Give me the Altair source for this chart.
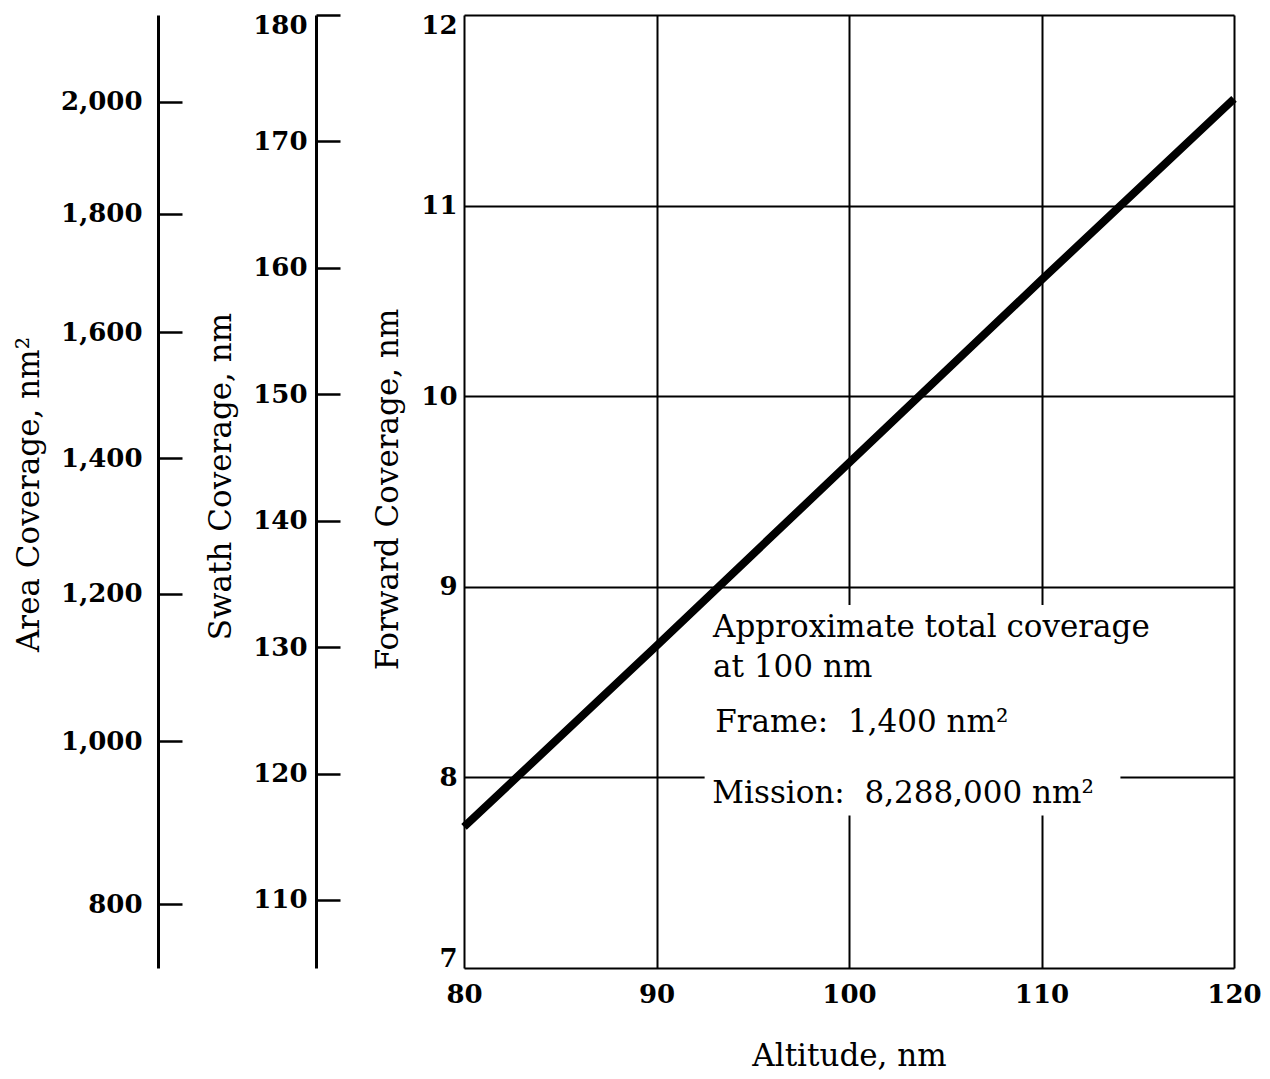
import altair as alt
import pandas as pd

# ---------------- data ----------------
altitude = [80, 90, 100, 110, 120]
forward = [7.74, 8.69, 9.65, 10.61, 11.56]

x_ticks = [80, 90, 100, 110, 120]
forward_ticks = [7, 8, 9, 10, 11, 12]
swath_ticks = [110, 120, 130, 140, 150, 160, 170, 180]
area_ticks = [800, 1000, 1200, 1400, 1600, 1800, 2000]

x_domain = [80, 120]
forward_domain = [7, 12]
swath_domain = [104.62, 180]
area_domain = [728, 2162]

note_lines = ["Approximate total coverage", "at 100 nm",
              "Frame: \u00a01,400 nm²", "Mission: \u00a08,288,000 nm²"]
note_x = [92.94, 92.94, 93.05, 92.90]
note_y = [8.737, 8.527, 8.238, 7.866]

box_x = [92.5]
box_x2 = [114.1]
box_y = [8.905]
box_y2 = [7.80]

FONT = "DejaVu Serif"
LABEL_SIZE = 26
TITLE_SIZE = 31

# ---------------- tables ----------------
df_line = pd.DataFrame({"x": altitude, "y": forward})
df_note = pd.DataFrame({"x": note_x, "y": note_y, "t": note_lines})
df_box = pd.DataFrame({"x": box_x, "x2": box_x2, "y": box_y, "y2": box_y2})
df_swath = pd.DataFrame({"v": swath_ticks})
df_area = pd.DataFrame({"v": area_ticks})

label_style = dict(labelFont=FONT, labelFontSize=LABEL_SIZE, labelFontWeight="bold",
                   labelColor="black", labelOverlap=False, labelBound=False)
title_style = dict(titleFont=FONT, titleFontSize=TITLE_SIZE, titleFontWeight="normal",
                   titleColor="black", titleAlign="center", titleBaseline="alphabetic")

x_axis = alt.Axis(values=x_ticks, title="Altitude, nm", grid=True, gridColor="black",
                  gridWidth=2, gridOpacity=1, domain=False, ticks=False, tickSize=0,
                  labelPadding=13, labelFlush=False, titleX=385, titleY=97, titleAngle=0,
                  **label_style, **title_style)

y_axis = alt.Axis(values=forward_ticks, orient="left", title="Forward Coverage, nm",
                  grid=True, gridColor="black", gridWidth=2, gridOpacity=1,
                  domain=False, ticks=False, tickSize=0, labelPadding=7,
                  labelFlush=True, labelFlushOffset=3,
                  titleX=-67, titleY=474, titleAngle=270,
                  **label_style, **title_style)

swath_axis = alt.Axis(values=swath_ticks, orient="right", offset=-918,
                      title="Swath Coverage, nm", grid=False,
                      domain=True, domainColor="black", domainWidth=3,
                      ticks=True, tickSize=24, tickWidth=2.5, tickColor="black",
                      labelAlign="right", labelPadding=-33,
                      labelFlush=True, labelFlushOffset=3,
                      titleX=-86, titleY=461, titleAngle=270,
                      **label_style, **title_style)

area_axis = alt.Axis(values=area_ticks, orient="right", offset=-1076, format=",.0f",
                     title="Area Coverage, nm²", grid=False,
                     domain=True, domainColor="black", domainWidth=3,
                     ticks=True, tickSize=24, tickWidth=2.5, tickColor="black",
                     labelAlign="right", labelBaseline="middle", labelPadding=-40,
                     labelFlush=False,
                     titleX=-120, titleY=479, titleAngle=270,
                     **label_style, **title_style)

x_enc = alt.X("x:Q", scale=alt.Scale(domain=x_domain, nice=False, zero=False), axis=x_axis)
y_enc = alt.Y("y:Q", scale=alt.Scale(domain=forward_domain, nice=False, zero=False), axis=y_axis)

box = alt.Chart(df_box).mark_rect(color="white").encode(
    x=x_enc, x2="x2:Q", y=y_enc, y2="y2:Q")

line = alt.Chart(df_line).mark_line(color="black", strokeWidth=8, strokeCap="butt").encode(
    x=x_enc, y=y_enc)

notes = alt.Chart(df_note).mark_text(align="left", baseline="alphabetic", font=FONT,
                                     fontSize=TITLE_SIZE, color="black").encode(
    x=x_enc, y=y_enc, text="t:N")

main = alt.layer(box, line, notes)

swath = alt.Chart(df_swath).mark_point(opacity=0).encode(
    y=alt.Y("v:Q", scale=alt.Scale(domain=swath_domain, nice=False, zero=False), axis=swath_axis))

area = alt.Chart(df_area).mark_point(opacity=0).encode(
    y=alt.Y("v:Q", scale=alt.Scale(type="sqrt", domain=area_domain, nice=False, zero=False),
            axis=area_axis))

chart = alt.layer(main, swath, area).resolve_scale(y="independent").resolve_axis(
    y="independent").properties(
    width=770, height=953,
    autosize=alt.AutoSizeParams(type="none"),
    padding={"left": 456, "top": 7, "right": 28, "bottom": 110},
).configure_view(stroke="black", strokeWidth=3).configure(background="white")

chart.save("out.html", embed_options={"renderer": "svg", "actions": False})
